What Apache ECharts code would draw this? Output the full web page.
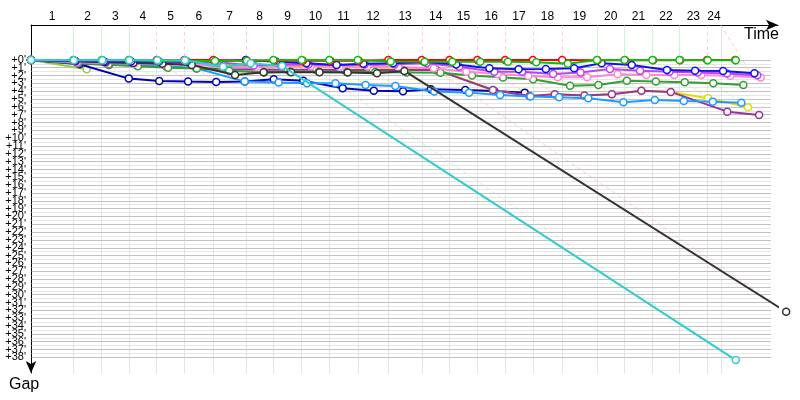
<!DOCTYPE html>
<html><head><meta charset="utf-8">
<script src="https://cdn.jsdelivr.net/npm/echarts@6/dist/echarts.min.js"></script>
<style>html,body{margin:0;padding:0;background:#fff}#c{width:800px;height:400px}</style>
</head><body><div id="c"></div>
<script>
// Leader's cumulative time (minutes) at the end of each lap; index 0 = start
const lapTimes = [0, 3.74, 6.25, 8.64, 11.11, 13.55, 16.11, 18.98, 21.41, 23.92, 26.36, 28.87, 31.58, 34.53, 36.97, 39.44, 41.89, 44.34, 46.93, 50.00, 52.44, 54.91, 57.30, 59.74, 62.22];
const timeLimit = 60.95;
// lap leader colour key for laps 1..23
const lapLeader = ['g','g','g','r','r','r','b','g','g','g','g','r','r','r','r','r','r','r','g','g','g','g','r'];
const lapLabels = ['1','2','3','4','5','6','7','8','9','10','11','12','13','14','15','16','17','18','19','20','21','22','23','24'];
const gapTicks = [0,1,2,3,4,5,6,7,8,9,10,11,12,13,14,15,16,17,18,19,20,21,22,23,24,25,26,27,28,29,30,31,32,33,34,35,36,37,38];
// dashed finish marker: [time, gap] start and end
const finishMarker = [[60.95, -4.46], [63.4, 1.3]];

// Gap to leader (minutes) at the end of each lap, index 0 = start
const gapRed       = [0, 0.05,0.05,0.05,0,0,0,0.1,0.1,0.1,0.1,0.1,0,0,0,0,0,0,0,0.05,0.05,0.05,0.05,0,0];
const gapGreen     = [0, 0,0,0,0.15,0.15,0.15,0.1,0,0,0,0,0.2,0.25,0.25,0.25,0.25,0.3,0.5,0,0,0,0,0.05,0.05];
const gapBlue      = [0, 0.15,0.2,0.2,0.2,0.2,0.15,0,0.25,0.42,0.64,0.5,0.42,0.22,0.6,1.06,1.19,1.15,1.06,0.42,0.64,1.28,1.37,1.41,1.7];
const gapViolet    = [0, 0.2,0.3,0.35,0.4,0.4,0.3,0.7,0.6,0.6,0.65,0.6,0.55,0.42,0.86,1.5,1.5,1.79,1.62,1.15,1.37,1.5,1.6,1.75,1.95];
const gapPink      = [0, 0.3,0.4,0.5,0.55,0.6,0.7,0.9,0.8,0.8,0.9,0.85,0.9,1.06,1.5,1.79,2.05,2.2,2.21,1.83,1.92,1.92,1.92,2.05,2.26];
const gapDarkGreen = [0, 0.4,0.6,0.8,1.0,1.1,1.4,1.6,1.5,1.5,1.55,1.55,1.6,1.65,2.0,2.26,2.47,3.29,3.2,2.65,2.77,2.85,2.98,3.2];
const gapLightBlue = [0, 0.3,0.5,0.6,0.8,1.06,2.77,2.9,2.98,2.98,3.2,3.32,4.05,4.18,4.48,4.69,4.77,4.9,5.41,5.12,5.24,5.33,5.46];
const gapPurple    = [0, 0.45,0.64,0.73,0.86,1.06,1.2,1.25,1.25,1.25,1.3,1.3,1.3,1.28,3.84,4.6,4.39,4.56,4.39,3.93,4.09,6.61,7.03];
const gapYellow    = [0, 0.35,0.4,0.45,0.5,0.55,0.6,0.8,0.9,0.9,0.95,1.0,1.0,1.1,3.84,4.6,4.39,4.56,4.39,3.93,4.09,4.9,6.05];
const gapNavy      = [0, 0.55,2.39,2.69,2.77,2.81,2.77,2.47,2.65,3.62,3.93,4.0,3.75,3.84,3.96,4.18];
const gapBlack     = [0, 0.15,0.3,0.4,0.5,0.65,1.92,1.57,1.57,1.57,1.62,1.7,1.41,32.19];
const gapGray      = [0, 0.25,0.35,0.45,0.5,0.55,0.9,1.0,0.9,0.73,0.86,0.73,0.9,1.37];
const gapCyan      = [0, 0.05,0.05,0.05,0.05,0.05,0.86,0.42,0.77,38.35];
const gapOlive     = [0, 1.19];

const cars = [
  {gaps: gapOlive, color: '#99cc44'},
  {gaps: gapGray, color: '#a8a8a8'},
  {gaps: gapNavy, color: '#0000b4'},
  {gaps: gapYellow, color: '#dede00'},
  {gaps: gapPurple, color: '#993399'},
  {gaps: gapLightBlue, color: '#1e9bff'},
  {gaps: gapDarkGreen, color: '#33a033'},
  {gaps: gapPink, color: '#ff88cc'},
  {gaps: gapViolet, color: '#bb44ee'},
  {gaps: gapBlack, color: '#333333'},
  {gaps: gapBlue, color: '#1111ee'},
  {gaps: gapRed, color: '#ff0000'},
  {gaps: gapGreen, color: '#11bb11'},
  {gaps: gapCyan, color: '#33cccc'}
];

const topColors = {g: '#a8e4a8', r: '#ffa8a8', b: '#a8a8ff'};
const diagColors = {g: '#a8e0a8', r: '#ffa0a0', b: '#a8a8ff'};
const yTop = -4.46, yBottom = 40, xEnd = 65.37, gapMax = 38;

// grid lines
const gridData = [];
for (let g = 0; g <= gapMax; g += 0.5) {
  const major = Number.isInteger(g);
  gridData.push({coords: [[0, g], [xEnd, g]], lineStyle: {color: major ? '#858585' : '#cfcfcf', width: 1}});
}
const vertData = [];
for (let k = 1; k < lapTimes.length - 1; k++) {
  const key = lapLeader[k - 1];
  vertData.push({coords: [[lapTimes[k], 0], [lapTimes[k], yBottom + 0.2]], lineStyle: {color: '#cccccc', width: 1}});
  vertData.push({coords: [[lapTimes[k], yTop], [lapTimes[k], 0]], lineStyle: {color: topColors[key], width: 1, type: key === 'g' ? 'solid' : [4, 3]}});
}
vertData.push({coords: [[timeLimit, yTop], [timeLimit, yBottom + 0.2]], lineStyle: {color: '#cccccc', width: 1}});

// lap lines: from leader's lap completion to the slowest car on that lap
const diagData = [];
for (let k = 1; k < lapTimes.length - 1; k++) {
  let G = 0;
  cars.forEach(c => { if (c.gaps.length > k && c.gaps[k] > G) G = c.gaps[k]; });
  const key = lapLeader[k - 1];
  diagData.push({coords: [[lapTimes[k], 0], [lapTimes[k] + G, G]], lineStyle: {color: diagColors[key], width: 1, type: [4, 3]}});
}
diagData.push({coords: finishMarker, lineStyle: {color: diagColors.r, width: 1, type: [4, 3]}});

const labelMids = lapLabels.map((l, i) => {
  const a = lapTimes[i];
  const b = i + 1 < lapTimes.length - 1 ? lapTimes[i + 1] : timeLimit;
  return (a + b) / 2;
});

const series = [
  {type: 'lines', coordinateSystem: 'cartesian2d', silent: true, z: 1, data: gridData, polyline: false},
  {type: 'lines', coordinateSystem: 'cartesian2d', silent: true, z: 1, data: vertData, polyline: false},
  {type: 'lines', coordinateSystem: 'cartesian2d', silent: true, z: 2, data: diagData, polyline: false}
];
cars.forEach((c, i) => {
  series.push({
    type: 'line', z: 3 + i, silent: true,
    data: c.gaps.map((g, k) => [lapTimes[k] + g, g]),
    symbol: 'circle', symbolSize: 7, showSymbol: true,
    lineStyle: {color: c.color, width: 2},
    itemStyle: {color: '#ffffff', borderColor: c.color, borderWidth: 1.5},
    clip: false
  });
});

const yLabelStyle = {
  margin: 5, color: '#000', fontSize: 11, fontFamily: 'Liberation Sans',
  formatter: v => '+' + v + "'"
};
const evenTicks = gapTicks.filter(v => v % 2 === 0);
const oddTicks = gapTicks.filter(v => v % 2 === 1);

const chart = echarts.init(document.getElementById('c'), null, {renderer: 'canvas'});
chart.setOption({
  animation: false,
  backgroundColor: '#ffffff',
  grid: {left: 31, right: 22, top: 25, bottom: 27, containLabel: false},
  xAxis: {
    type: 'value', position: 'top', min: 0, max: 66,
    axisLine: {show: true, onZero: false, symbol: ['none', 'arrow'], symbolSize: [8, 12], lineStyle: {color: '#000', width: 1}},
    axisTick: {show: false}, splitLine: {show: false},
    axisLabel: {
      customValues: labelMids, margin: 2,
      color: '#000', fontSize: 12, fontFamily: 'Liberation Sans',
      formatter: v => {
        let best = 0;
        labelMids.forEach((m, i) => { if (Math.abs(m - v) < Math.abs(labelMids[best] - v)) best = i; });
        return lapLabels[best];
      }
    }
  },
  yAxis: [
    {
      type: 'value', inverse: true, min: yTop, max: yBottom, position: 'left',
      axisLine: {show: true, onZero: false, symbol: ['arrow', 'none'], symbolSize: [8, 12], lineStyle: {color: '#000', width: 1}},
      axisTick: {show: false}, splitLine: {show: false},
      axisLabel: Object.assign({customValues: evenTicks}, yLabelStyle)
    },
    {
      type: 'value', inverse: true, min: yTop, max: yBottom, position: 'left', offset: 0,
      axisLine: {show: false}, axisTick: {show: false}, splitLine: {show: false},
      axisLabel: Object.assign({customValues: oddTicks}, yLabelStyle)
    }
  ],
  graphic: [
    {type: 'text', left: 744, top: 27, style: {text: 'Time', fontSize: 16, fontFamily: 'Liberation Sans', fill: '#000'}},
    {type: 'text', left: 9, top: 377, style: {text: 'Gap', fontSize: 16, fontFamily: 'Liberation Sans', fill: '#000'}}
  ],
  series: series
});
</script></body></html>
